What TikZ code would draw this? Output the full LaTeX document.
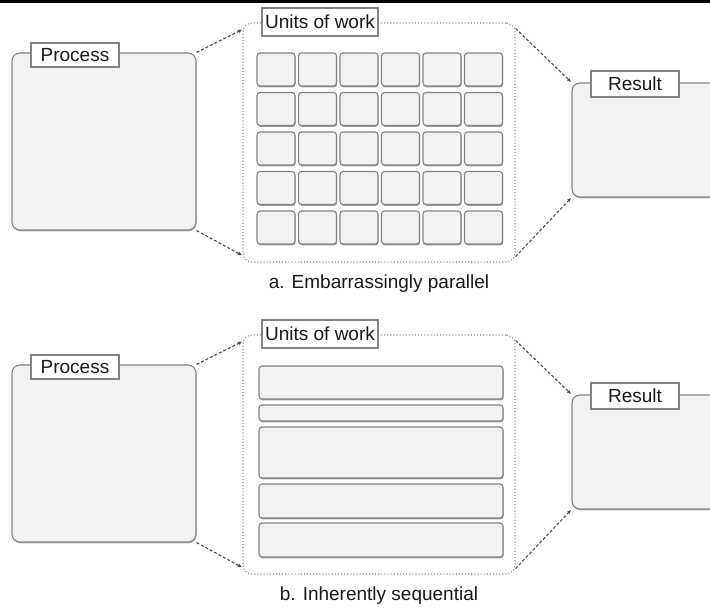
\documentclass[tikz,border=0pt]{standalone}
\usepackage{fontspec}
\setmainfont{Liberation Sans}
\usepackage{xcolor}
\usepackage{tikz}
\usetikzlibrary{arrows.meta, positioning, calc, shadows}

\definecolor{boxfill}{RGB}{242,242,242}
\definecolor{boxline}{RGB}{130,130,130}
\definecolor{dashline}{RGB}{75,75,75}
\definecolor{txt}{RGB}{25,25,25}

\tikzset{
  panelbox/.style={draw=boxline, line width=1.1pt, fill=boxfill, rounded corners=8pt, inner sep=0pt,
    drop shadow={shadow xshift=0.6pt, shadow yshift=-1.4pt, fill=black!60, opacity=0.5}},
  cellbox/.style={draw=boxline, line width=1.1pt, fill=boxfill, rounded corners=3pt, inner sep=0pt,
    drop shadow={shadow xshift=0.6pt, shadow yshift=-1.4pt, fill=black!70, opacity=0.55}},
  unitframe/.style={draw=gray!90, dotted, line width=1.1pt, rounded corners=9pt, inner sep=0pt},
  lblbox/.style={draw=boxline, line width=1.1pt, fill=white, inner sep=0pt, text=txt},
  flowarrow/.style={draw=dashline, line width=1.1pt, dash pattern=on 3pt off 2pt,
    -{Latex[length=4.5pt,width=3.5pt]}},
}

\begin{document}
\begin{tikzpicture}[x=1pt, y=-1pt, font=\fontsize{19}{22}\selectfont]
  \useasboundingbox (0,0) rectangle (710,609);
  \clip (0,0) rectangle (710,609);
  \draw[line width=3pt] (0,1.5) -- (710,1.5);

  % both panels share the same frame
  \foreach \p/\dy/\cap in {a/0/a. Embarrassingly parallel, b/312/b. Inherently sequential} {
    \node[panelbox, minimum width=184pt, minimum height=177pt] (proc\p) at (104, 141.5+\dy) {};
    \node[lblbox, minimum width=88pt, minimum height=24pt] (proclbl\p) at (75, 55+\dy) {Process};
    \node[unitframe, minimum width=272pt, minimum height=239pt] (units\p) at (379, 142.5+\dy) {};
    \node[lblbox, minimum width=116pt, minimum height=28pt] (unitslbl\p) at (320, 22+\dy) {Units of work};
    \node[panelbox, minimum width=168pt, minimum height=114pt] (res\p) at (656, 140+\dy) {};
    \node[lblbox, minimum width=88pt, minimum height=26pt] (reslbl\p) at (635, 84+\dy) {Result};
    \node[text=txt] (cap\p) at (379, 284+\dy) {\cap};
    \draw[flowarrow] (proc\p.north east) -- ($(units\p.north west)+(0,7)$);
    \draw[flowarrow] (proc\p.south east) -- ($(units\p.south west)+(0,-7)$);
    \draw[flowarrow] ($(units\p.north east)+(0,6)$) -- (res\p.north west);
    \draw[flowarrow] ($(units\p.south east)+(0,-6)$) -- (res\p.south west);
  }

  % a: grid of equal units
  \foreach \r in {0,...,4} {
    \foreach \c in {0,...,5} {
      \node[cellbox, minimum width=38pt, minimum height=33pt] (cell-\r-\c) at (276+41.5*\c, 69.5+39.5*\r) {};
    }
  }

  % b: one unit after the other
  \foreach \t/\b in {366/399, 405/421, 427/478, 484/518, 523/557} {
    \pgfmathsetmacro{\bh}{\b-\t}
    \pgfmathsetmacro{\bc}{(\b+\t)/2}
    \node[cellbox, minimum width=244pt, minimum height=\bh pt] (bar-\t) at (381, \bc) {};
  }
\end{tikzpicture}
\end{document}
